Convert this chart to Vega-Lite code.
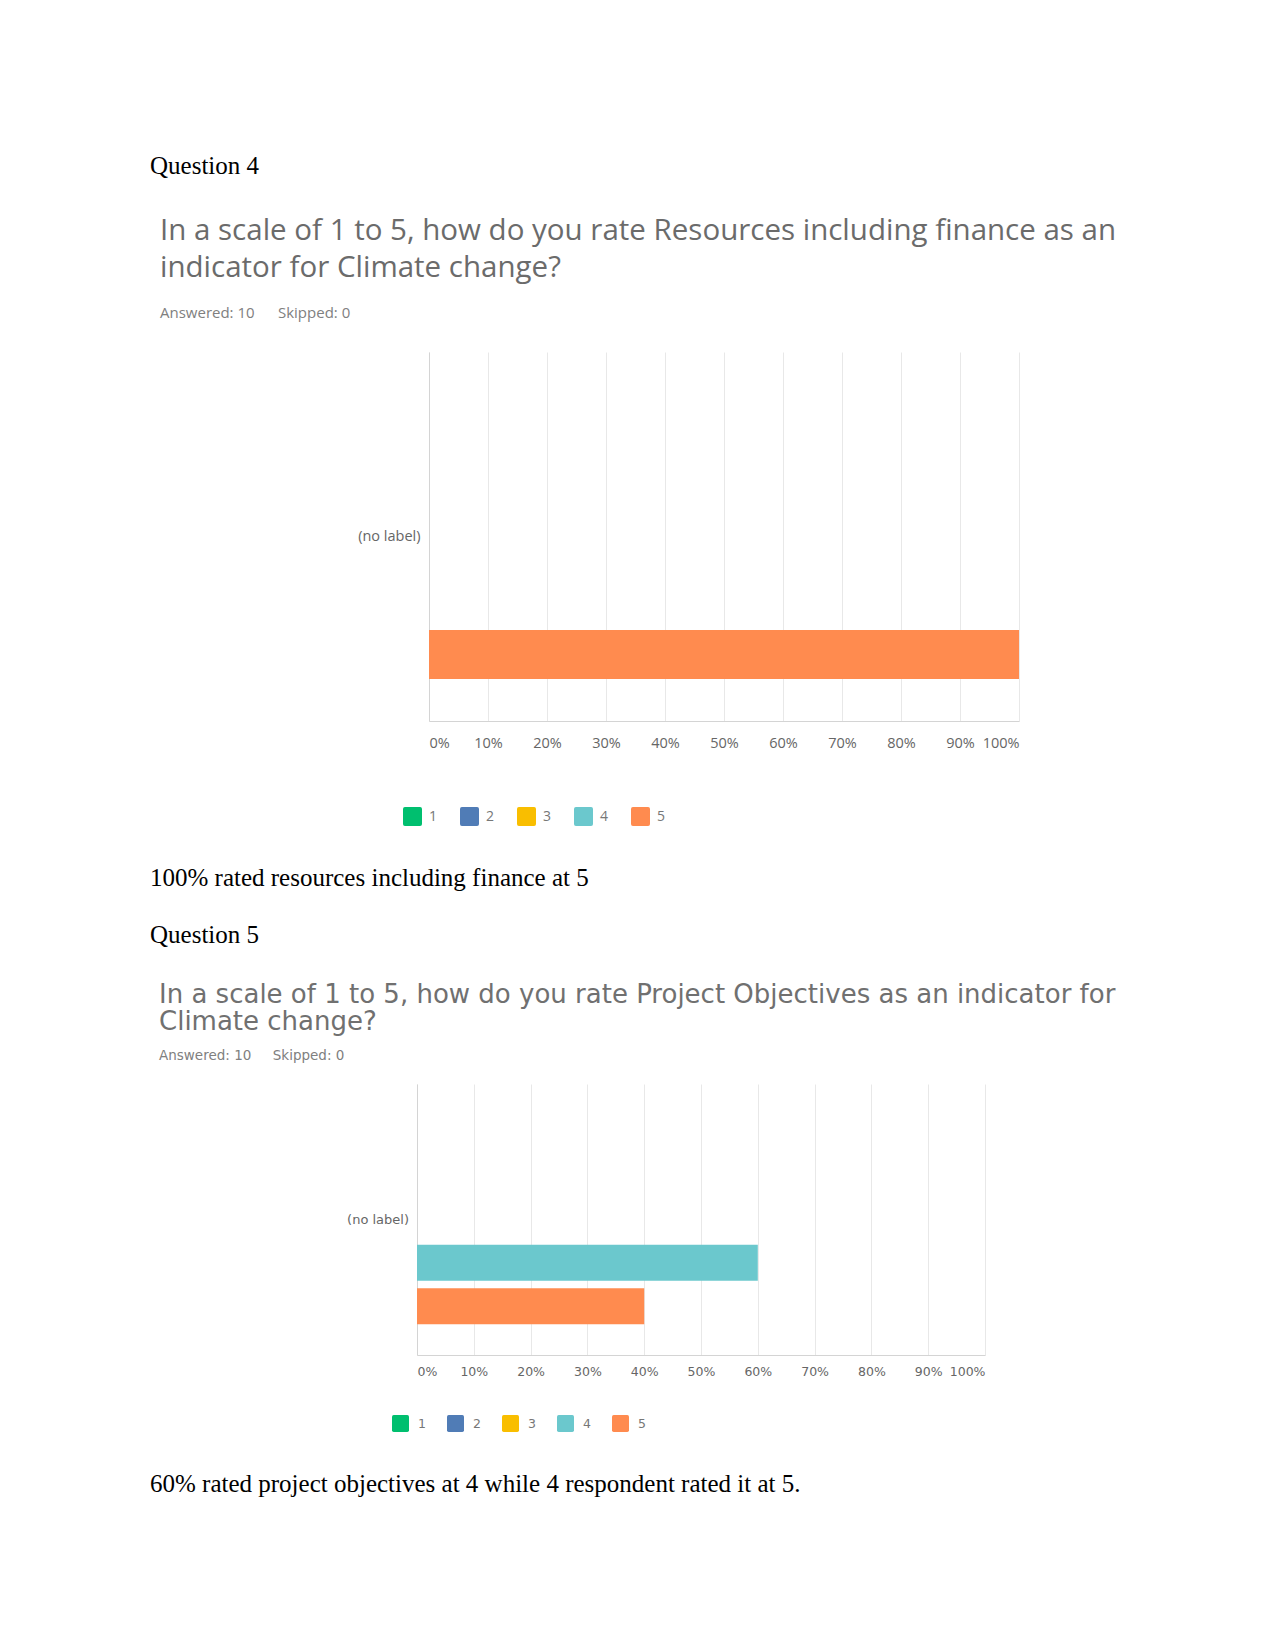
{
  "$schema": "https://vega.github.io/schema/vega-lite/v6.json",
  "background": "white",
  "padding": {"left": 150, "top": 140, "right": 0, "bottom": 0},
  "autosize": {"type": "pad"},
  "config": {
    "view": {"stroke": null},
    "legend": {"padding": 0}
  },
  "datasets": {
    "q4": [
      {"row": "(no label)", "rating": "1", "pct": 0},
      {"row": "(no label)", "rating": "2", "pct": 0},
      {"row": "(no label)", "rating": "3", "pct": 0},
      {"row": "(no label)", "rating": "4", "pct": 0},
      {"row": "(no label)", "rating": "5", "pct": 1}
    ],
    "q5": [
      {"row": "(no label)", "rating": "1", "pct": 0},
      {"row": "(no label)", "rating": "2", "pct": 0},
      {"row": "(no label)", "rating": "3", "pct": 0},
      {"row": "(no label)", "rating": "4", "pct": 0.6},
      {"row": "(no label)", "rating": "5", "pct": 0.4}
    ],
    "t1": [{"t": "Question 4"}],
    "c1": [{"t": "100% rated resources including finance at 5"}],
    "t2": [{"t": "Question 5"}],
    "c2": [{"t": "60% rated project objectives at 4 while 4 respondent rated it at 5."}],
    "blank": [{"t": ""}]
  },
  "spacing": 0,
  "bounds": "full",
  "resolve": {"scale": {"x": "independent", "y": "independent", "color": "independent", "yOffset": "independent"}, "legend": {"color": "independent"}},
  "vconcat": [
    {
      "spacing": 0,
      "bounds": "flush",
      "resolve": {"scale": {"x": "independent", "y": "independent", "color": "independent", "yOffset": "independent"}, "legend": {"color": "independent"}},
      "vconcat": [
        {
          "width": 400, "height": 212,
          "data": {"name": "t1"},
          "mark": {"type": "text", "align": "left", "baseline": "middle", "font": "Liberation Serif", "fontSize": 25, "color": "#000000"},
          "encoding": {"text": {"field": "t"}, "x": {"value": -267}, "y": {"value": 26}}
        },
        {
          "spacing": 11,
          "bounds": "flush",
          "resolve": {"scale": {"x": "independent", "y": "independent", "color": "independent", "yOffset": "independent"}, "legend": {"color": "independent"}},
          "hconcat": [
            {
              "width": 1, "height": 1,
              "data": {"name": "blank"},
              "mark": {"type": "text"},
              "encoding": {"text": {"field": "t"}}
            },
            {
              "width": 590, "height": 369,
              "data": {"name": "q4"},
              "title": {
                "text": ["In a scale of 1 to 5, how do you rate Resources including finance as an", "indicator for Climate change?"],
                "subtitle": "Answered: 10\u00a0\u00a0\u00a0\u00a0\u00a0\u00a0Skipped: 0",
                "anchor": "start", "frame": "group", "dx": -269,
                "font": "Open Sans", "fontSize": 29.5, "fontWeight": 400, "color": "#6b6b6b", "lineHeight": 36.5,
                "subtitleFont": "Open Sans", "subtitleFontSize": 15, "subtitleColor": "#808080", "subtitlePadding": 23,
                "offset": 30
              },
              "mark": {"type": "bar"},
              "encoding": {
                "y": {"field": "row", "type": "nominal", "scale": {"paddingInner": 0, "paddingOuter": 0.147},
                      "axis": {"title": null, "ticks": false, "domain": true, "domainColor": "#d4d4d4", "labelPadding": 9, "labelFont": "Open Sans", "labelFontSize": 14.5, "labelColor": "#666666"}},
                "yOffset": {"field": "rating", "type": "nominal", "scale": {"domain": ["1", "2", "3", "4", "5"], "paddingInner": 0.17, "paddingOuter": 0}},
                "x": {"field": "pct", "type": "quantitative", "scale": {"domain": [0, 1], "nice": false},
                      "axis": {"title": null, "values": [0, 0.1, 0.2, 0.3, 0.4, 0.5, 0.6, 0.7, 0.8, 0.9, 1], "format": ".0%", "grid": true, "gridColor": "#e8e8e8", "ticks": false, "domainColor": "#d4d4d4", "labelFlush": true, "labelPadding": 15, "labelFont": "Open Sans", "labelFontSize": 14.5, "labelColor": "#666666"}},
                "color": {"field": "rating", "type": "nominal",
                          "scale": {"domain": ["1", "2", "3", "4", "5"], "range": ["#00bf6f", "#507cb6", "#f9be00", "#6bc8cd", "#ff8b4f"]},
                          "legend": {"title": null, "orient": "none", "direction": "horizontal", "legendX": -26, "legendY": 455,
                                     "symbolType": "M-0.8,-1H0.8Q1,-1 1,-0.8V0.8Q1,1 0.8,1H-0.8Q-1,1 -1,0.8V-0.8Q-1,-1 -0.8,-1Z",
                                     "symbolSize": 361, "symbolStrokeWidth": 0, "symbolOpacity": 1, "labelOffset": 7, "columnPadding": 22,
                                     "labelFont": "Open Sans", "labelFontSize": 14, "labelColor": "#777777"}}
              }
            }
          ]
        },
        {
          "width": 400, "height": 549,
          "data": {"name": "c1"},
          "mark": {"type": "text", "align": "left", "baseline": "middle", "font": "Liberation Serif", "fontSize": 25, "color": "#000000"},
          "encoding": {"text": {"field": "t"}, "x": {"value": -267}, "y": {"value": 526}}
        }
      ]
    },
    {
      "spacing": 0,
      "bounds": "flush",
      "resolve": {"scale": {"x": "independent", "y": "independent", "color": "independent", "yOffset": "independent"}, "legend": {"color": "independent"}},
      "vconcat": [
        {
          "width": 400, "height": 183,
          "data": {"name": "t2"},
          "mark": {"type": "text", "align": "left", "baseline": "middle", "font": "Liberation Serif", "fontSize": 25, "color": "#000000"},
          "encoding": {"text": {"field": "t"}, "x": {"value": -267}, "y": {"value": 34}}
        },
        {
          "width": 568, "height": 271,
          "data": {"name": "q5"},
          "title": {
            "text": ["In a scale of 1 to 5, how do you rate Project Objectives as an indicator for", "Climate change?"],
            "subtitle": "Answered: 10\u00a0\u00a0\u00a0\u00a0\u00a0Skipped: 0",
            "anchor": "start", "frame": "group", "dx": -258,
            "font": "DejaVu Sans", "fontSize": 26, "fontWeight": 400, "color": "#707070", "lineHeight": 27,
            "subtitleFont": "DejaVu Sans", "subtitleFontSize": 13.5, "subtitleColor": "#808080", "subtitlePadding": 14,
            "offset": 22
          },
          "mark": {"type": "bar"},
          "encoding": {
            "y": {"field": "row", "type": "nominal", "scale": {"paddingInner": 0, "paddingOuter": 0.147},
                  "axis": {"title": null, "ticks": false, "domain": true, "domainColor": "#d4d4d4", "labelPadding": 8.5, "labelFont": "DejaVu Sans", "labelFontSize": 13, "labelColor": "#666666"}},
            "yOffset": {"field": "rating", "type": "nominal", "scale": {"domain": ["1", "2", "3", "4", "5"], "paddingInner": 0.17, "paddingOuter": 0}},
            "x": {"field": "pct", "type": "quantitative", "scale": {"domain": [0, 1], "nice": false},
                  "axis": {"title": null, "values": [0, 0.1, 0.2, 0.3, 0.4, 0.5, 0.6, 0.7, 0.8, 0.9, 1], "format": ".0%", "grid": true, "gridColor": "#e8e8e8", "ticks": false, "domainColor": "#d4d4d4", "labelFlush": true, "labelPadding": 10, "labelFont": "DejaVu Sans", "labelFontSize": 12.5, "labelColor": "#666666"}},
            "color": {"field": "rating", "type": "nominal",
                      "scale": {"domain": ["1", "2", "3", "4", "5"], "range": ["#00bf6f", "#507cb6", "#f9be00", "#6bc8cd", "#ff8b4f"]},
                      "legend": {"title": null, "orient": "none", "direction": "horizontal", "legendX": -25, "legendY": 331,
                                 "symbolType": "M-0.8,-1H0.8Q1,-1 1,-0.8V0.8Q1,1 0.8,1H-0.8Q-1,1 -1,0.8V-0.8Q-1,-1 -0.8,-1Z",
                                 "symbolSize": 289, "symbolStrokeWidth": 0, "symbolOpacity": 1, "labelOffset": 9, "columnPadding": 21,
                                 "labelFont": "DejaVu Sans", "labelFontSize": 12.5, "labelColor": "#777777"}}
          }
        },
        {
          "width": 400, "height": 150,
          "data": {"name": "c2"},
          "mark": {"type": "text", "align": "left", "baseline": "middle", "font": "Liberation Serif", "fontSize": 25, "color": "#000000"},
          "encoding": {"text": {"field": "t"}, "x": {"value": -267}, "y": {"value": 129}}
        }
      ]
    }
  ]
}
